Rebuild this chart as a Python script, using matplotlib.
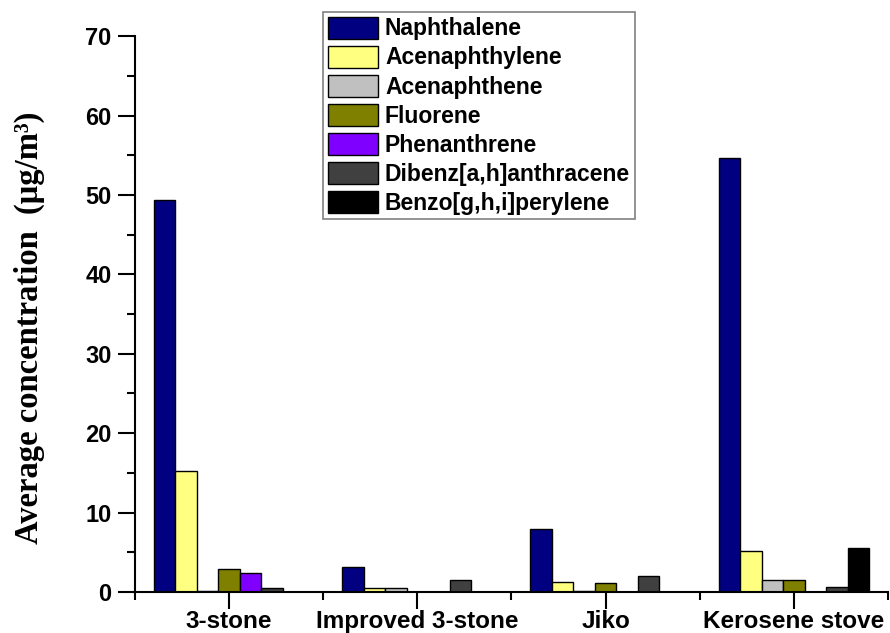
import numpy as np
import matplotlib
matplotlib.use('Agg')
import matplotlib.pyplot as plt
from matplotlib.ticker import MultipleLocator, FixedLocator

# Data
stoves = ['3-stone', 'Improved 3-stone', 'Jiko', 'Kerosene stove']
compounds = ['Naphthalene', 'Acenaphthylene', 'Acenaphthene', 'Fluorene',
             'Phenanthrene', 'Dibenz[a,h]anthracene', 'Benzo[g,h,i]perylene']
three_stone = [49.4, 15.3, 0.1, 2.85, 2.45, 0.55, 0.0]
improved = [3.15, 0.45, 0.5, 0.0, 0.0, 1.55, 0.0]
jiko = [7.9, 1.2, 0.1, 1.1, 0.0, 1.95, 0.0]
kerosene = [54.6, 5.15, 1.5, 1.45, 0.0, 0.65, 5.6]
colors = ['#000080', '#FFFF80', '#C0C0C0', '#808000', '#8000FF', '#404040', '#000000']

values = np.array([three_stone, improved, jiko, kerosene])

fig = plt.figure(figsize=(8.9, 6.33), dpi=100)
ax = fig.add_axes([0.1517, 0.0648, 0.846, 0.878])

x = np.arange(1, len(stoves) + 1)
w = 0.8 / len(compounds)
for i, name in enumerate(compounds):
    ax.bar(x + (i - 3) * w, values[:, i], width=w, color=colors[i],
           edgecolor='black', linewidth=1.0, label=name)

ax.set_xlim(0.5, 4.5)
ax.set_ylim(0, 70)
ax.yaxis.set_major_locator(MultipleLocator(10))
ax.yaxis.set_minor_locator(MultipleLocator(5))
ax.set_xticks(x)
ax.xaxis.set_minor_locator(FixedLocator([0.5, 1.5, 2.5, 3.5, 4.5]))
ax.set_xticklabels(stoves, fontfamily='Liberation Sans', fontweight='bold', fontsize=17.5)
for lab in ax.get_yticklabels():
    lab.set_fontfamily('Liberation Sans')
    lab.set_fontweight('bold')
    lab.set_fontsize(17)

ax.tick_params(axis='both', which='major', direction='out', length=12, width=1.5)
ax.tick_params(axis='both', which='minor', direction='out', length=6, width=1.5)
ax.tick_params(axis='x', which='major', pad=1)
ax.tick_params(axis='y', which='major', pad=5)

for s in ['top', 'right']:
    ax.spines[s].set_visible(False)
for s in ['left', 'bottom']:
    ax.spines[s].set_linewidth(1.5)

ax.set_ylabel('Average concentration  (\u03bcg/m\u00b3)', fontfamily='Liberation Serif',
              fontweight='bold', fontsize=23.5)
ax.yaxis.set_label_coords(-0.119, 0.475)

leg = fig.legend(loc='upper left', bbox_to_anchor=(0.363, 0.981),
                 prop={'family': 'Liberation Sans', 'weight': 'bold', 'size': 16.5},
                 handlelength=2.2, handleheight=1.1, labelspacing=0.23,
                 handletextpad=0.3, borderpad=0.2, borderaxespad=0,
                 fancybox=False, framealpha=1, edgecolor='#808080')
leg.get_frame().set_linewidth(1.2)

fig.savefig('out.png', dpi=100)
